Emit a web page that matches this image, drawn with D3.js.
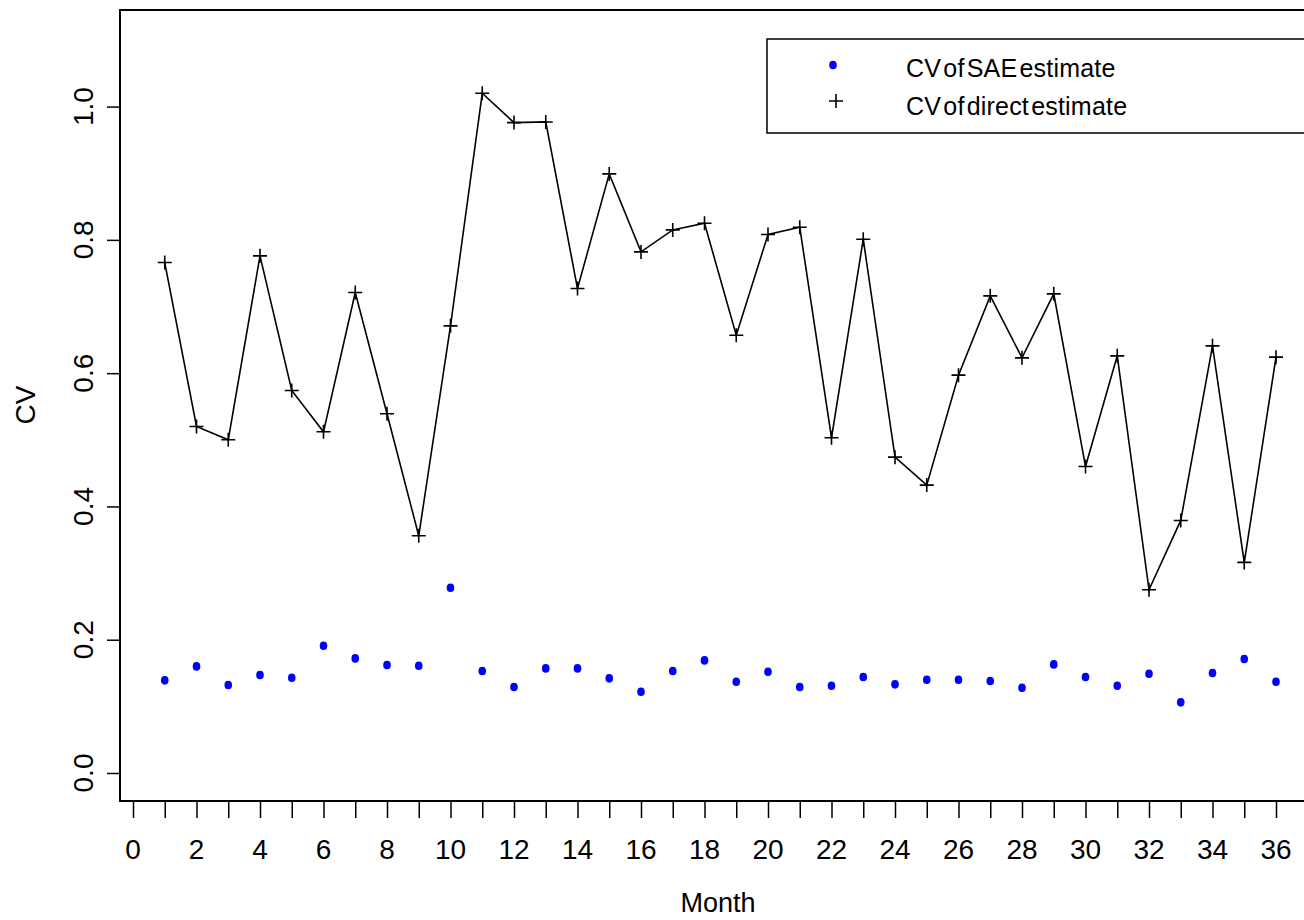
<!DOCTYPE html>
<html>
<head>
<meta charset="utf-8">
<script src="https://cdn.jsdelivr.net/npm/d3@7"></script>
<style>
  body { margin: 0; background: #fff; }
  text { font-family: "Liberation Sans", Arial, sans-serif; }
</style>
</head>
<body>
<svg width="1304" height="920"></svg>
<script>
const svg = d3.select("svg");

const months = d3.range(1, 37);
const cvSAE = [
  0.139, 0.160, 0.132, 0.147, 0.143, 0.191, 0.172, 0.162, 0.161, 0.278,
  0.153, 0.129, 0.157, 0.157, 0.142, 0.122, 0.153, 0.169, 0.137, 0.152,
  0.129, 0.131, 0.144, 0.133, 0.140, 0.140, 0.138, 0.128, 0.163, 0.144,
  0.131, 0.149, 0.106, 0.150, 0.171, 0.137
];
const cvDirect = [
  0.766, 0.520, 0.500, 0.776, 0.574, 0.512, 0.721, 0.539, 0.356, 0.671,
  1.020, 0.976, 0.977, 0.727, 0.899, 0.782, 0.815, 0.825, 0.657, 0.808,
  0.819, 0.503, 0.801, 0.474, 0.432, 0.597, 0.716, 0.623, 0.719, 0.460,
  0.626, 0.275, 0.379, 0.641, 0.316, 0.624
];
const xTicks = d3.range(0, 37);
const xLabels = d3.range(0, 37, 2);
const yTicks = [0, 0.2, 0.4, 0.6, 0.8, 1.0];
const legendLabels = ["CV of SAE estimate", "CV of direct estimate"];

const x = d3.scaleLinear().domain([0, 36]).range([133, 1276]);
const y = d3.scaleLinear().domain([0, 1]).range([773, 106.6]);

// plot frame (right side runs off the page)
svg.append("path")
  .attr("d", "M1310,10H120V801H1310")
  .attr("fill", "none")
  .attr("stroke", "#000")
  .attr("stroke-width", 2);

// x axis
const xAxis = svg.append("g")
  .attr("transform", "translate(0,801)")
  .call(d3.axisBottom(x).tickValues(xTicks).tickSize(17).tickFormat(""));
xAxis.select(".domain").remove();
xAxis.selectAll(".tick line").attr("stroke", "#000").attr("stroke-width", 1.5);

svg.append("g")
  .selectAll("text")
  .data(xLabels)
  .join("text")
  .attr("x", d => x(d))
  .attr("y", 859)
  .attr("text-anchor", "middle")
  .attr("font-size", 28)
  .text(d => d);

// y axis
const yAxis = svg.append("g")
  .attr("transform", "translate(120,0)")
  .call(d3.axisLeft(y).tickValues(yTicks).tickSize(13).tickFormat(""));
yAxis.select(".domain").remove();
yAxis.selectAll(".tick line").attr("stroke", "#000").attr("stroke-width", 1.5);

svg.append("g")
  .selectAll("text")
  .data(yTicks)
  .join("text")
  .attr("transform", d => `translate(93,${y(d)}) rotate(-90)`)
  .attr("text-anchor", "middle")
  .attr("font-size", 28)
  .text(d => d.toFixed(1));

// axis titles
svg.append("text")
  .attr("x", 718)
  .attr("y", 912)
  .attr("text-anchor", "middle")
  .attr("font-size", 27)
  .text("Month");

svg.append("text")
  .attr("transform", "translate(35,405) rotate(-90)")
  .attr("text-anchor", "middle")
  .attr("font-size", 28)
  .text("CV");

// direct estimate line + plus markers
svg.append("path")
  .datum(months)
  .attr("fill", "none")
  .attr("stroke", "#000")
  .attr("stroke-width", 1.6)
  .attr("d", d3.line().x(d => x(d)).y((d, i) => y(cvDirect[i])));

svg.append("g")
  .selectAll("path")
  .data(months)
  .join("path")
  .attr("transform", (d, i) => `translate(${x(d)},${y(cvDirect[i])})`)
  .attr("d", "M-7,0H7M0,-7V7")
  .attr("stroke", "#000")
  .attr("stroke-width", 1.6);

// SAE dots
svg.append("g")
  .selectAll("ellipse")
  .data(months)
  .join("ellipse")
  .attr("cx", d => x(d))
  .attr("cy", (d, i) => y(cvSAE[i]))
  .attr("rx", 3.8)
  .attr("ry", 4.3)
  .attr("fill", "#0000ff");

// legend
svg.append("path")
  .attr("d", "M1310,39H767V133H1310")
  .attr("fill", "none")
  .attr("stroke", "#000")
  .attr("stroke-width", 1.5);

svg.append("ellipse")
  .attr("cx", 833).attr("cy", 65)
  .attr("rx", 3.8).attr("ry", 4.3)
  .attr("fill", "#0000ff");
svg.append("path")
  .attr("transform", "translate(836,101)")
  .attr("d", "M-7,0H7M0,-7V7")
  .attr("stroke", "#000")
  .attr("stroke-width", 1.6);

svg.append("g")
  .selectAll("text")
  .data(legendLabels)
  .join("text")
  .attr("x", 906)
  .attr("y", (d, i) => 77 + i * 38)
  .attr("font-size", 25)
  .attr("letter-spacing", 0.2)
  .attr("word-spacing", -5)
  .text(d => d);
</script>
</body>
</html>
